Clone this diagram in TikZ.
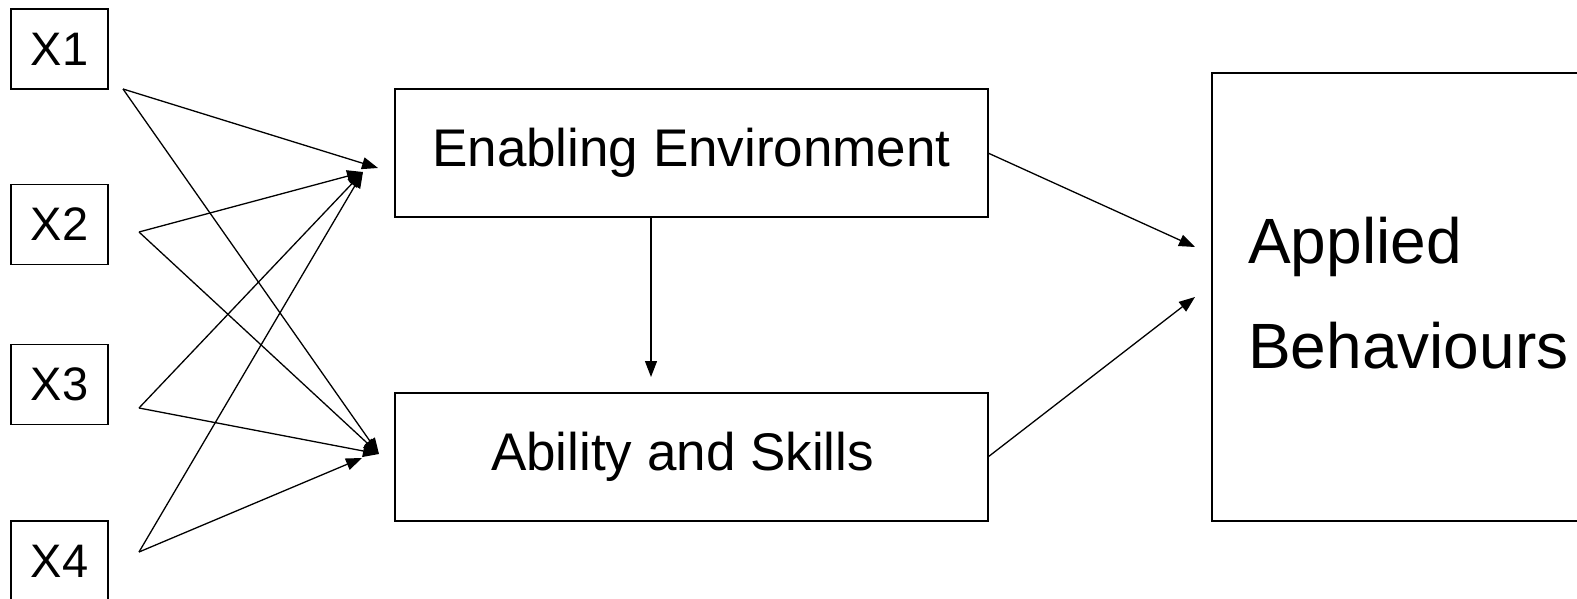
\documentclass[tikz,border=0pt]{standalone}
\usepackage{fontspec}
\setmainfont{Liberation Sans}
\usetikzlibrary{arrows.meta}
\begin{document}
\begin{tikzpicture}[x=1pt,y=-1pt,
  xbox/.style={draw,line width=1.5pt,minimum width=97pt,minimum height=80pt,inner sep=0pt,
    font=\fontsize{47}{56}\selectfont},
  midbox/.style={draw,line width=1.6pt,minimum width=593pt,minimum height=128pt,inner sep=0pt,
    font=\fontsize{53}{62}\selectfont},
  link/.style={line width=1.3pt,-{Triangle[length=16pt,width=12pt]}}]
\useasboundingbox (0,0) rectangle (1577,599);

% input factors (the last one runs past the lower edge)
\node[xbox] (X1) at (59.5,49) {X1};
\node[xbox] (X2) at (59.5,224.5) {X2};
\node[xbox] (X3) at (59.5,384.5) {X3};
\node[xbox,minimum height=100pt,text depth=20pt] (X4) at (59.5,571) {X4};

% intermediate boxes
\node[midbox] (EE) at (691.5,153) {Enabling Environment};
\node[midbox] (AS) at (691.5,457) {\hspace*{-18pt}Ability and Skills};

% outcome box
\node[draw,line width=1.6pt,minimum width=400pt,minimum height=448pt,inner sep=0pt] (AB) at (1412,297) {};
\node[anchor=north west,align=left,inner sep=0pt,font=\fontsize{64}{105}\selectfont] (ABtext) at (1248,217) {Applied\\Behaviours};

% start points of the links from the factors
\coordinate (s1) at (123,89);
\coordinate (s2) at (139,232);
\coordinate (s3) at (139,408);
\coordinate (s4) at (139,552);

% arrow tips in front of the boxes
\coordinate (e1) at (378,168);
\coordinate (e2) at (363,172);
\coordinate (a1) at (379,454);
\coordinate (a4) at (362,458);
\coordinate (eeout) at (988,153);
\coordinate (asout) at (988,457);
\coordinate (ab1) at (1195,247);
\coordinate (ab2) at (1195,297);
\coordinate (vtip) at (651,377);

% factor links
\draw[link] (s1) -- (e1);
\draw[link] (s1) -- (a1);
\draw[link] (s2) -- (e2);
\draw[link] (s2) -- (a1);
\draw[link] (s3) -- (e2);
\draw[link] (s3) -- (a1);
\draw[link] (s4) -- (e2);
\draw[link] (s4) -- (a4);

% links between the boxes
\draw[link] (EE.south -| vtip) -- (vtip);
\draw[link] (eeout) -- (ab1);
\draw[link] (asout) -- (ab2);
\end{tikzpicture}
\end{document}
